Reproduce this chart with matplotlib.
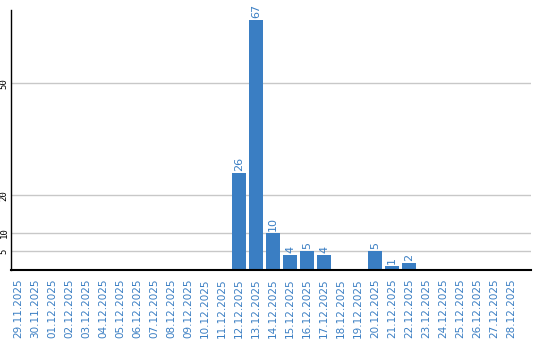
import matplotlib
matplotlib.use("Agg")
from matplotlib import pyplot as plt
import numpy as np

####  dati  ####
giorni = ["29.11.2025", "30.11.2025", "01.12.2025", "02.12.2025", "03.12.2025",
          "04.12.2025", "05.12.2025", "06.12.2025", "07.12.2025", "08.12.2025",
          "09.12.2025", "10.12.2025", "11.12.2025", "12.12.2025", "13.12.2025",
          "14.12.2025", "15.12.2025", "16.12.2025", "17.12.2025", "18.12.2025",
          "19.12.2025", "20.12.2025", "21.12.2025", "22.12.2025", "23.12.2025",
          "24.12.2025", "25.12.2025", "26.12.2025", "27.12.2025", "28.12.2025"]
valori = [0, 0, 0, 0, 0, 0, 0, 0, 0, 0, 0, 0, 0, 26, 67,
          10, 4, 5, 4, 0, 0, 5, 1, 2, 0, 0, 0, 0, 0, 0]
y_ticks = [5, 10, 20, 50]

blu = '#3a7ec3'

fig1 = plt.figure(figsize=(5.4, 3.4), dpi=100)
f1 = fig1.add_axes([10.5/540, 70/340, (531-10.5)/540, 260/340])

x = np.arange(len(giorni))
f1.bar(x, valori, width=14/17, color=blu, zorder=3)

for xi, v in zip(x, valori):
    if v > 0:
        f1.text(xi, v + 0.5, str(v), rotation=90, ha='center', va='bottom',
                color=blu, fontsize=8)

f1.set_xlim(-0.44, 30.18)
f1.set_ylim(0, 69.7)

f1.set_yticks(y_ticks)
f1.set_yticklabels([str(t) for t in y_ticks], rotation=90, va='center',
                   fontsize=6.5, family='DejaVu Sans Mono')
f1.grid(True, axis='y', color='#c8c8c8', linewidth=1, zorder=0)

f1.set_xticks(x)
f1.set_xticklabels(giorni, rotation=90, color=blu, fontsize=7.5)
f1.tick_params(axis='x', length=0, pad=6)
f1.tick_params(axis='y', length=0, pad=1.5)

for s in ['top', 'right']:
    f1.spines[s].set_visible(False)
f1.spines['left'].set_linewidth(1)
f1.spines['bottom'].set_linewidth(1.5)
f1.spines['left'].set_zorder(4)
f1.spines['bottom'].set_zorder(4)

fig1.savefig("out.png", dpi=100)
